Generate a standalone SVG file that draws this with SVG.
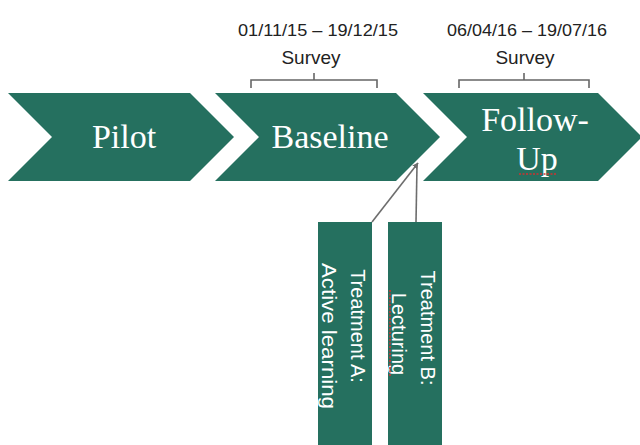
<svg xmlns="http://www.w3.org/2000/svg" width="640" height="445" viewBox="0 0 640 445">
<style>
.chev{fill:#25705f}
.big{font-family:"Liberation Serif","DejaVu Serif",serif;font-size:34px;fill:#ffffff;text-anchor:middle}
.date{font-family:"Liberation Sans",Arial,sans-serif;font-size:17px;fill:#222;text-anchor:middle}
.surv{font-family:"Liberation Sans",Arial,sans-serif;font-size:19px;fill:#222;text-anchor:middle}
.bracket{fill:none;stroke:#666;stroke-width:1.6}
.box{fill:#25705f}
.vt{font-family:"Liberation Sans",Arial,sans-serif;font-size:20px;fill:#ffffff;text-anchor:middle}
.conn{fill:none;stroke:#6d6d6d;stroke-width:1.6}
.spell{fill:none;stroke:#d03030;stroke-width:1.5;stroke-dasharray:2 1.5}
</style>
<defs>
<marker id="ah" viewBox="0 0 10 10" refX="9" refY="5" markerWidth="6" markerHeight="6" orient="auto" markerUnits="userSpaceOnUse">
<path d="M0,0 L10,5 L0,10 z" fill="#6d6d6d"/>
</marker>
</defs>
<rect width="640" height="445" fill="#ffffff"/>

<g id="pilot">
<polygon class="chev" points="8,93 190,93 234,137 190,181 8,181 52,137"/>
<text class="big" x="124" y="148">Pilot</text>
</g>

<g id="baseline">
<polygon class="chev" points="215,93 396,93 440,137 396,181 215,181 259,137"/>
<text class="big" x="330" y="148">Baseline</text>
</g>

<g id="followup">
<polygon class="chev" points="423,93 598,93 642,137 598,181 423,181 467,137"/>
<text class="big" x="535" y="131">Follow-</text>
<text class="big" x="537" y="170">Up</text>
<line class="spell" x1="519" y1="174" x2="557" y2="174"/>
</g>

<g id="survey1">
<text class="date" x="318" y="36" textLength="160" lengthAdjust="spacingAndGlyphs">01/11/15 – 19/12/15</text>
<text class="surv" x="311" y="64">Survey</text>
<path class="bracket" d="M251,88 V80 H377 V88 M314,80 V73"/>
</g>

<g id="survey2">
<text class="date" x="527" y="36" textLength="160" lengthAdjust="spacingAndGlyphs">06/04/16 – 19/07/16</text>
<text class="surv" x="525" y="64">Survey</text>
<path class="bracket" d="M459,88 V80 H589 V88 M524,80 V73"/>
</g>

<g id="treatmentA">
<rect class="box" x="318" y="222" width="54" height="223"/>
<g transform="translate(345,334) rotate(90)">
<text class="vt" x="-8" y="-6">Treatment A:</text>
<text class="vt" x="2" y="23" textLength="146" lengthAdjust="spacingAndGlyphs">Active learning</text>
</g>
</g>

<g id="treatmentB">
<rect class="box" x="388" y="222" width="54" height="223"/>
<g transform="translate(415,334) rotate(90)">
<text class="vt" x="-6" y="-6">Treatment B:</text>
<text class="vt" x="0" y="23">Lecturing</text>
</g>
<line class="spell" x1="390" y1="290" x2="390" y2="377"/>
</g>

<g id="connectors">
<line class="conn" x1="372" y1="222" x2="418" y2="163" marker-end="url(#ah)"/>
<line class="conn" x1="416" y1="222" x2="417" y2="165"/>
</g>
</svg>
